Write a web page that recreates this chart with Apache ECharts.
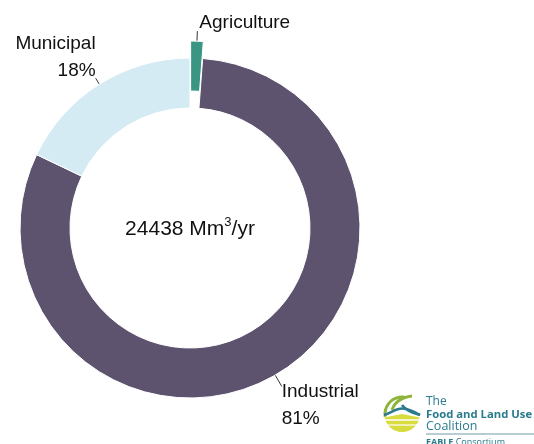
<!DOCTYPE html>
<html>
<head>
<meta charset="utf-8">
<script src="https://cdn.jsdelivr.net/npm/echarts@6/dist/echarts.min.js"></script>
<style>
  html, body { margin: 0; padding: 0; background: #fff; }
  #chart { width: 534px; height: 444px; }
</style>
</head>
<body>
<div id="chart"></div>
<script>
// Water withdrawal by sector (Mm3/yr)
const sectors = ['Agriculture', 'Industrial', 'Municipal'];
const withdrawals = [290, 19774, 4374];
const sectorColors = ['#3a9682', '#5d536f', '#d5ebf4'];
const unitMain = 'Mm';
const unitSup = '3';
const unitTail = '/yr';

const total = withdrawals.reduce((a, b) => a + b, 0);

const chart = echarts.init(document.getElementById('chart'));

// Per-slice label text (spacer rows nudge the block off the leader end) and leader length
const labelStyles = {
  Agriculture: { formatter: '{b}\n{sA| }', distance: 2, length: 10 },
  Industrial: { formatter: '{sI| }\n{b}\n{d}%', distance: 0, length: 13 },
  Municipal: { formatter: '{b}\n{d}%\n{sM| }', distance: 0, length: 7 }
};

const pieData = sectors.map((name, i) => {
  const s = labelStyles[name];
  return {
    name: name,
    value: withdrawals[i],
    selected: name === 'Agriculture',
    itemStyle: { color: sectorColors[i] },
    label: { formatter: s.formatter, distanceToLabelLine: s.distance },
    labelLine: { length: s.length, length2: 0 }
  };
});

const font = '"Liberation Sans", Arial, Helvetica, sans-serif';
const logoFont = '"Open Sans", "Noto Sans", sans-serif';
const teal = '#2a7b8d';

chart.setOption({
  animation: false,
  series: [{
    type: 'pie',
    center: [190, 228],
    radius: [120, 170],
    startAngle: 90,
    clockwise: true,
    selectedMode: 'single',
    selectedOffset: 17,
    percentPrecision: 0,
    avoidLabelOverlap: false,
    itemStyle: { borderColor: '#fff', borderWidth: 1 },
    emphasis: { disabled: true },
    select: { itemStyle: { borderColor: '#fff', borderWidth: 1 } },
    label: {
      show: true,
      position: 'outside',
      fontFamily: font,
      fontSize: 19,
      lineHeight: 27,
      color: '#111',
      rich: {
        sA: { fontSize: 1, lineHeight: 16 },
        sI: { fontSize: 1, lineHeight: 37 },
        sM: { fontSize: 1, lineHeight: 42 }
      }
    },
    labelLine: {
      show: true,
      lineStyle: { color: '#333', width: 1 }
    },
    data: pieData
  }],
  graphic: [
    {
      type: 'text',
      x: 190,
      y: 229,
      style: {
        text: '{a|' + total + ' ' + unitMain + '}{b|' + unitSup + '}{a|' + unitTail + '}',
        align: 'center',
        verticalAlign: 'middle',
        rich: {
          a: { fontFamily: font, fontSize: 21, lineHeight: 26, fill: '#111' },
          b: { fontFamily: font, fontSize: 13, lineHeight: 26, fill: '#111', padding: [0, 0, 13, 0] }
        }
      }
    },
    // Coalition logo: emblem
    {
      type: 'group',
      children: [
        {
          type: 'sector',
          shape: { cx: 402, cy: 414, r0: 0, r: 18, startAngle: 0.2, endAngle: Math.PI - 0.2 },
          style: { fill: '#d9dc3e' }
        },
        {
          type: 'polyline',
          shape: { points: [[385, 420], [419, 420]] },
          style: { stroke: '#fff', lineWidth: 1.5 }
        },
        {
          type: 'polyline',
          shape: { points: [[387, 425], [417, 425]] },
          style: { stroke: '#fff', lineWidth: 1.2 }
        },
        {
          type: 'arc',
          shape: { cx: 402, cy: 414, r: 17, startAngle: Math.PI * 0.95, endAngle: Math.PI * 1.55 },
          style: { stroke: '#8db53c', lineWidth: 3, fill: null }
        },
        {
          type: 'bezierCurve',
          shape: { x1: 392, y1: 410, x2: 412, y2: 396, cpx1: 396, cpy1: 398 },
          style: { stroke: '#8db53c', lineWidth: 3, fill: null }
        },
        {
          type: 'bezierCurve',
          shape: { x1: 384, y1: 415, x2: 420, y2: 415, cpx1: 396, cpy1: 412, cpx2: 398, cpy2: 402 },
          style: { stroke: teal, lineWidth: 2.5, fill: null }
        },
        {
          type: 'bezierCurve',
          shape: { x1: 402, y1: 405, x2: 420, y2: 415, cpx1: 407, cpy1: 412 },
          style: { stroke: teal, lineWidth: 2.5, fill: null }
        },
        {
          type: 'text', x: 426, y: 402,
          style: { text: 'The', fontFamily: logoFont, fontSize: 12, fill: teal, verticalAlign: 'middle' }
        },
        {
          type: 'text', x: 426, y: 415,
          style: { text: 'Food and Land Use', fontFamily: logoFont, fontWeight: 'bold', fontSize: 11.3, fill: teal, verticalAlign: 'middle' }
        },
        {
          type: 'text', x: 426, y: 426,
          style: { text: 'Coalition', fontFamily: logoFont, fontSize: 12.5, fill: teal, verticalAlign: 'middle' }
        },
        {
          type: 'line',
          shape: { x1: 426, y1: 434, x2: 534, y2: 434 },
          style: { stroke: '#6f9ba6', lineWidth: 1 }
        },
        {
          type: 'text', x: 426, y: 442,
          style: { text: '{f|FABLE} Consortium', fontFamily: logoFont, fontSize: 9, fill: teal, verticalAlign: 'middle',
            rich: { f: { fontFamily: logoFont, fontSize: 9, fontWeight: 'bold', fill: teal } } }
        }
      ]
    }
  ]
});
</script>
</body>
</html>
